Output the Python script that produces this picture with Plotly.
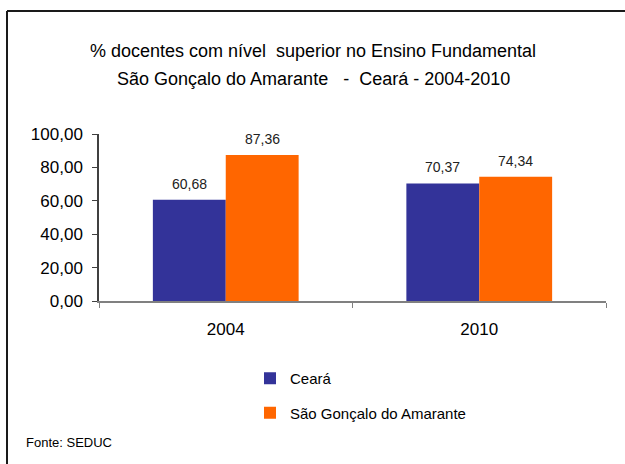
import plotly.graph_objects as go

# ---- data ----
categories = ["2004", "2010"]
series_names = ["Ceará", "São Gonçalo do Amarante"]
ceara = [60.68, 70.37]
sao_goncalo = [87.36, 74.34]
y_tick_vals = [0, 20, 40, 60, 80, 100]
title_line1 = "% docentes com nível  superior no Ensino Fundamental"
title_line2 = "São Gonçalo do Amarante   -  Ceará - 2004-2010"
source_text = "Fonte: SEDUC"

# ---- layout geometry ----
W, H = 625, 464
L, R, T, B = 99, 19, 134, 163
PW, PH = W - L - R, H - T - B
BARGAP = 0.425
FONT = "Liberation Sans, Arial, sans-serif"


def px(x):
    return (x - L) / PW


def py(y):
    return (H - B - y) / PH


colors = ["#333399", "#FF6600"]
series = [ceara, sao_goncalo]

fig = go.Figure()
for i, (name, vals, col) in enumerate(zip(series_names, series, colors)):
    fig.add_trace(go.Bar(
        x=categories, y=vals, name=name,
        marker=dict(color=col, line=dict(width=0)),
        legendgroup=f"g{i}",
    ))

# value labels above bars
bar_px = (1 - BARGAP) * (PW / len(categories)) / len(series)
annotations = []
for i, vals in enumerate(series):
    shift = (i - (len(series) - 1) / 2) * bar_px
    for j, v in enumerate(vals):
        annotations.append(dict(
            x=j, y=v, xref="x", yref="y", text=f"{v:.2f}".replace(".", ","),
            showarrow=False, xshift=shift, yanchor="bottom", yshift=6,
            font=dict(family=FONT, size=14, color="#222222"),
        ))

annotations.append(dict(
    x=px(313), y=py(79), xref="paper", yref="paper", text=title_line2,
    showarrow=False, xanchor="center", yanchor="middle",
    font=dict(family=FONT, size=18, color="#000000"),
))
annotations.append(dict(
    x=px(24), y=py(442), xref="paper", yref="paper", text=source_text,
    showarrow=False, xanchor="left", yanchor="middle",
    font=dict(family=FONT, size=13, color="#000000"),
))

shapes = [
    dict(type="line", xref="paper", yref="paper", x0=px(7), x1=px(640), y0=py(11), y1=py(11),
         line=dict(color="#1a1a1a", width=2)),
    dict(type="line", xref="paper", yref="paper", x0=px(7), x1=px(7), y0=py(11), y1=py(480),
         line=dict(color="#1a1a1a", width=2)),
]

fig.update_layout(
    width=W, height=H,
    margin=dict(l=L, r=R, t=T, b=B, pad=0, autoexpand=False),
    paper_bgcolor="white", plot_bgcolor="white",
    font=dict(family=FONT, color="#000000"),
    separators=",.",
    barmode="group", bargap=BARGAP, bargroupgap=0,
    title=dict(text=title_line1, x=313 / W, xref="container", xanchor="center",
               y=1 - 51 / H, yref="container", yanchor="middle", automargin=False,
               font=dict(family=FONT, size=18, color="#000000")),
    showlegend=True,
    legend=dict(x=px(250), y=py(362), xanchor="left", yanchor="top",
                orientation="v", tracegroupgap=12, bgcolor="rgba(0,0,0,0)",
                font=dict(family=FONT, size=15, color="#000000")),
    annotations=annotations,
    shapes=shapes,
)

fig.update_xaxes(
    type="category", range=[-0.5, len(categories) - 0.5], automargin=False,
    showline=True, linecolor="#808080", linewidth=1.5,
    ticks="outside", tickson="boundaries", ticklen=5, tickcolor="#808080",
    tickangle=0,
    tickfont=dict(family=FONT, size=17, color="#000000"), ticklabelstandoff=12,
    showgrid=False, zeroline=False,
)
fig.update_yaxes(
    range=[0, 100], tickvals=y_tick_vals, tickformat=".2f", automargin=False,
    showline=True, linecolor="#404040", linewidth=1.5,
    ticks="outside", ticklen=5, tickcolor="#404040",
    tickfont=dict(family=FONT, size=17, color="#000000"), ticklabelstandoff=6,
    showgrid=False, zeroline=False,
)

fig.write_html("out.html", config={"displayModeBar": False},
               post_script="document.body.style.margin='0';")
